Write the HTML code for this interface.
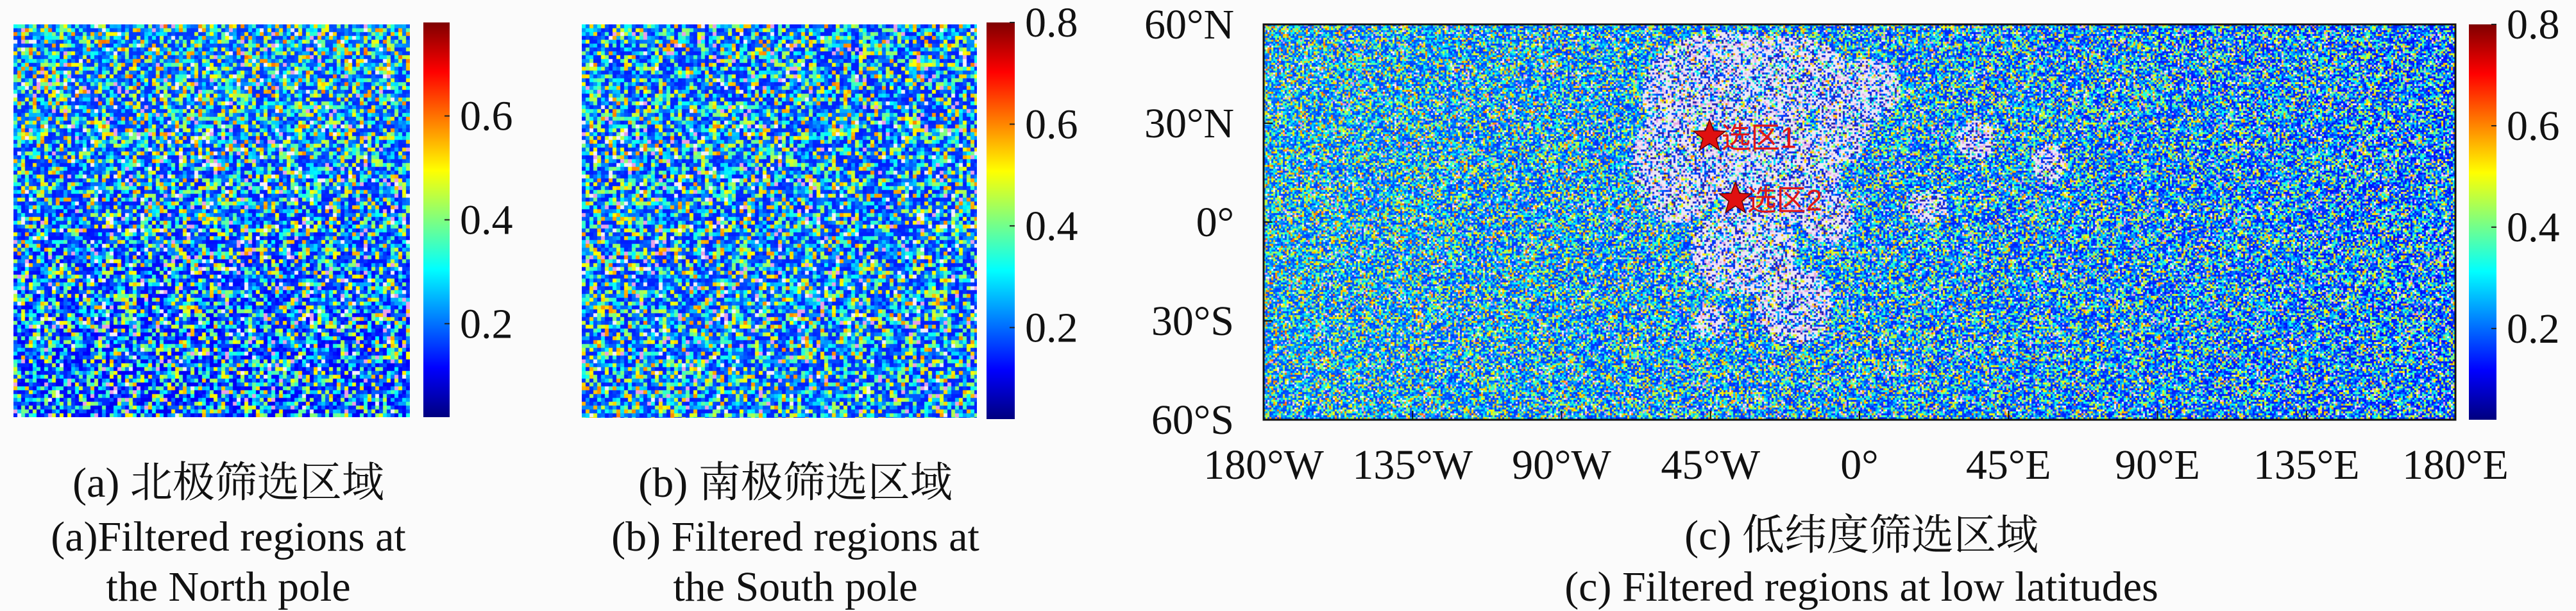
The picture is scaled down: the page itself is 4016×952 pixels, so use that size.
<!DOCTYPE html>
<html><head><meta charset="utf-8">
<style>
html,body{margin:0;padding:0;background:#fbfbfb;}
#root{position:relative;width:4016px;height:952px;overflow:hidden;background:#fbfbfb;}
canvas{position:absolute;}
svg{position:absolute;left:0;top:0;}
text{font-family:"Liberation Serif","Noto Serif CJK SC","Noto Sans CJK SC",serif;fill:#111;}
</style></head>
<body>
<div id="root">
<canvas id="ca" width="618" height="612" style="left:21px;top:38px"></canvas>
<canvas id="cb" width="616" height="613" style="left:907px;top:38px"></canvas>
<canvas id="cc" width="1858" height="616" style="left:1970px;top:38px"></canvas>
<svg id="ov" width="4016" height="952"></svg>
</div>
<script>
// ---- data ----
const cbTicksA = [0.2, 0.4, 0.6];
const cbTicksB = [0.2, 0.4, 0.6, 0.8];
const cbTicksC = [0.2, 0.4, 0.6, 0.8];
const latTicks = [60, 30, 0, -30, -60];
const latLabels = ["60°N","30°N","0°","30°S","60°S"];
const lonTicks = [-180,-135,-90,-45,0,45,90,135,180];
const lonLabels = ["180°W","135°W","90°W","45°W","0°","45°E","90°E","135°E","180°E"];
const siteNames = ["选区1","选区2"];
const siteLon = [-45.3, -37.5];
const siteLat = [26, 7];
// white (masked) highland blobs: lon, lat, rx(deg), ry(deg)
const blobLon = [-40, -22, -55, -25, -35, -5, -20, -45, -10, 35, 20, 2, 57];
const blobLat = [40, 45, 18, 15, -8, 30, -25, -30, 2, 25, 5, 40, 18];
const blobRx = [26, 18, 14, 20, 16, 8, 12, 5, 8, 6, 6, 10, 5];
const blobRy = [18, 12, 18, 16, 14, 12, 12, 5, 8, 6, 5, 10, 6];

const NS="http://www.w3.org/2000/svg";
const ov=document.getElementById('ov');
function mk(tag,attrs,parent){const e=document.createElementNS(NS,tag);for(const k in attrs)e.setAttribute(k,attrs[k]);(parent||ov).appendChild(e);return e;}
let seed=12345;function rnd(){seed=(seed*1103515245+12345)%2147483648;return seed/2147483648;}
function jet(v){v=Math.max(0,Math.min(1,v));const r=Math.max(0,Math.min(1,1.5-Math.abs(4*v-3))),g=Math.max(0,Math.min(1,1.5-Math.abs(4*v-2))),b=Math.max(0,Math.min(1,1.5-Math.abs(4*v-1)));return `rgb(${r*255|0},${g*255|0},${b*255|0})`;}
function noise(id,cell,bias,whiteFn,wp){
  const c=document.getElementById(id),ctx=c.getContext('2d');
  for(let y=0;y<c.height;y+=cell)for(let x=0;x<c.width;x+=cell){
    let r=rnd();let col;
    const w=whiteFn?whiteFn(x,y):0;
    if(rnd()<w){col=rnd()<0.7?'#ebe6f5':(rnd()<0.6?'#2a1fb0':'#e8a8e0');}
    else if(r<(wp||0.05)){col=rnd()<0.5?'#f2eef8':'#e6a0e6';}
    else{const b=typeof bias==='function'?bias(x,y):bias;let v=0.1+Math.pow(rnd(),2.3)*0.5+b;col=jet(v/0.8*0.95);}
    ctx.fillStyle=col;ctx.fillRect(x,y,cell,cell);
  }
}
noise('ca',6,(x,y)=>0.06*(1-y/612)-0.01);
noise('cb',6,0.03);
// map axis functions
const MX0=1970,MX1=3828,MY0=38,MY1=654;
const lonX=l=>MX0+(l+180)/360*(MX1-MX0);
const latY=l=>MY0+(60-l)/120*(MY1-MY0);
noise('cc',3,(x,y)=>0.05*(1-x/1858)+0.01,(x,y)=>{
  let w=0;const X=x+MX0,Y=y+MY0;
  for(let i=0;i<blobLon.length;i++){const dx=(X-lonX(blobLon[i]))/(blobRx[i]/360*(MX1-MX0));const dy=(Y-latY(blobLat[i]))/(blobRy[i]/120*(MY1-MY0));const d=dx*dx+dy*dy;if(d<1)w=Math.max(w,0.6);}
  return w;},0.07);

// colorbars
function colorbar(id,x,y0,y1,w,vmin,vmax,ticks){
  const g=mk('linearGradient',{id:'g'+id,x1:0,y1:1,x2:0,y2:0});
  for(let i=0;i<=8;i++)mk('stop',{offset:i/8,'stop-color':jet(i/8)},g);
  mk('defs',{}).appendChild(g);
  mk('rect',{x:x,y:y0,width:w,height:y1-y0,fill:`url(#g${id})`,});
  ticks.forEach(t=>{const ty=y1-(t-vmin)/(vmax-vmin)*(y1-y0);
    mk('line',{x1:x+w-8,x2:x+w,y1:ty,y2:ty,stroke:'#222','stroke-width':2});
    const e=mk('text',{x:x+w+16,y:ty+22,'font-size':66,});e.textContent=t.toFixed(1);});
}
colorbar('a',660,35,650,41,0.02,0.78,cbTicksA);
colorbar('b',1538,35,653,44,0.02,0.8,cbTicksB);
colorbar('c',3849,38,654,43,0.02,0.8,cbTicksC);

// map frame and axes
mk('rect',{x:MX0,y:MY0,width:MX1-MX0,height:MY1-MY0,fill:'none',stroke:'#111','stroke-width':3,});
latTicks.forEach((l,i)=>{const y=latY(l);mk('line',{x1:MX0,x2:MX0+14,y1:y,y2:y,stroke:'#111','stroke-width':2});
  const e=mk('text',{x:1924,y:y+22,'font-size':66,'text-anchor':'end',});e.textContent=latLabels[i];});
lonTicks.forEach((l,i)=>{const x=lonX(l);mk('line',{x1:x,x2:x,y1:MY1,y2:MY1-14,stroke:'#111','stroke-width':2});
  const e=mk('text',{x:x,y:746,'font-size':66,'text-anchor':'middle',});e.textContent=lonLabels[i];});
// sites
function star(cx,cy,r){let p=[];for(let i=0;i<10;i++){const a=-Math.PI/2+i*Math.PI/5,rr=i%2?r*0.42:r;p.push((cx+rr*Math.cos(a)).toFixed(1)+','+(cy+rr*Math.sin(a)).toFixed(1));}return p.join(' ');}
siteNames.forEach((n,i)=>{const x=lonX(siteLon[i]),y=latY(siteLat[i]);
  mk('polygon',{points:star(x,y,26),fill:'#e01010',stroke:'#600','stroke-width':1.5,});
  const e=mk('text',{x:x+18,y:y+18,'font-size':46,style:'fill:#e01818;font-family:"Liberation Sans","Noto Sans CJK SC",sans-serif',});e.textContent=n;});

// captions
function cap(x,y,t,name){const e=mk('text',{x:x,y:y,'font-size':66,'text-anchor':'middle',});e.textContent=t;}
cap(356,774,'(a) 北极筛选区域','caption-a-cn');
cap(356,858,'(a)Filtered regions at','caption-a-en-1');
cap(356,936,'the North pole','caption-a-en-2');
cap(1240,774,'(b) 南极筛选区域','caption-b-cn');
cap(1240,858,'(b) Filtered regions at','caption-b-en-1');
cap(1240,936,'the South pole','caption-b-en-2');
cap(2902,856,'(c) 低纬度筛选区域','caption-c-cn');
cap(2902,936,'(c) Filtered regions at low latitudes','caption-c-en');
</script>
</body></html>
